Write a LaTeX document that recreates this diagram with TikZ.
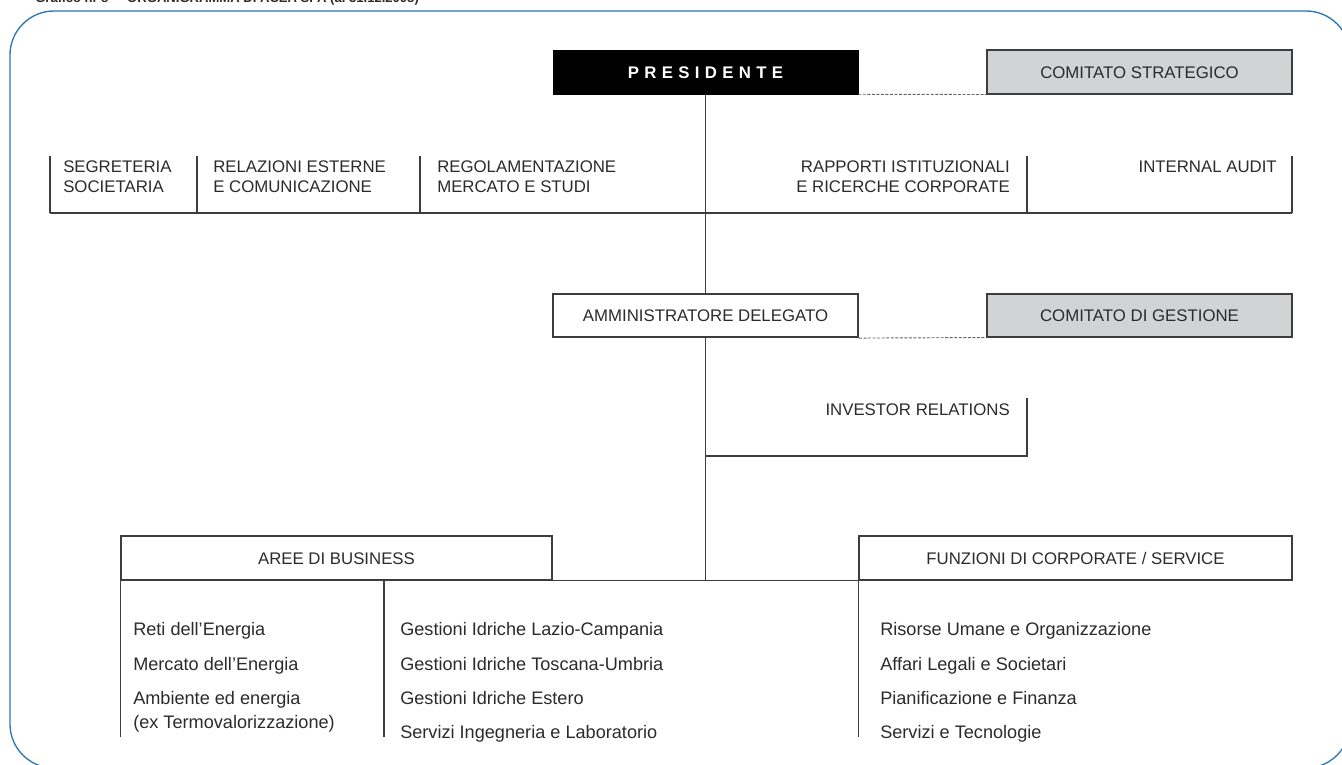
\documentclass[tikz,border=0pt]{standalone}
\usepackage{fontspec}
\setmainfont{Liberation Sans}
\definecolor{linegray}{HTML}{3D3D3D}
\definecolor{textc}{HTML}{2B2B2B}
\definecolor{boxfill}{HTML}{D1D3D4}
\definecolor{frameblue}{HTML}{2A77B5}
\newcommand{\capsfont}{\fontsize{12.6pt}{15pt}\selectfont}
\newcommand{\lowfont}{\fontsize{13.6pt}{18pt}\selectfont}
\tikzset{
  capstext/.style={inner sep=0pt, text=textc, font=\capsfont},
  lowtext/.style={inner sep=0pt, text=textc, font=\lowfont, anchor=base west, align=left},
  orgbox/.style={draw=linegray, line width=0.8pt, inner sep=0pt, text=textc, font=\capsfont,
     text height=9pt, text depth=0pt, minimum height=33pt},
  greybox/.style={orgbox, fill=boxfill},
  link/.style={draw=linegray, line width=0.8pt},
  dashlink/.style={draw=linegray!80, line width=0.7pt, dash pattern=on 2.2pt off 1.2pt},
  frame/.style={draw=frameblue, line width=1pt, rounded corners=33pt}
}
\begin{document}
\begin{tikzpicture}[x=0.75pt,y=-0.75pt]
\useasboundingbox (0,0) rectangle (1342,764);
\begin{scope}
\clip (0,0) rectangle (1342,764);
\node[anchor=base west, inner sep=0pt, text=textc, font=\bfseries\fontsize{9.8pt}{12pt}\selectfont] (title) at (35,2.5)
  {Grafico n. 8 \,–\, ORGANIGRAMMA DI ACEA SPA (al 31.12.2008)};
\draw[frame] (10,11) rectangle (1350,768);
\end{scope}

% top level
\node[draw=black, fill=black, minimum width=228.75pt, minimum height=33pt, inner sep=0pt,
  text=white, font=\bfseries\fontsize{12.6pt}{15pt}\selectfont, text height=9pt, text depth=0pt]
  (pres) at (705.5,72) {P\kern4pt R\kern4pt E\kern4pt S\kern4pt I\kern4pt D\kern4pt E\kern4pt N\kern4pt T\kern4pt E};
\node[greybox, minimum width=228.75pt] (cs) at (1139.5,72) {COMITATO STRATEGICO};

% staff row (anchor = baseline of last line)
\node[capstext, anchor=base west, align=left] (seg) at (63,192) {SEGRETERIA\\SOCIETARIA};
\node[capstext, anchor=base west, align=left] (rel) at (213,192) {RELAZIONI ESTERNE\\E COMUNICAZIONE};
\node[capstext, anchor=base west, align=left] (reg) at (437,192) {REGOLAMENTAZIONE\\MERCATO E STUDI};
\node[capstext, anchor=base east, align=right] (rap) at (1010,192) {RAPPORTI ISTITUZIONALI\\E RICERCHE CORPORATE};
\node[capstext, anchor=base east, align=right] (ia) at (1277,172) {INTERNAL AUDIT};

\coordinate (s0) at (50,156);
\coordinate (s1) at (197,156);
\coordinate (s2) at (420,156);
\coordinate (s3) at (1027,156);
\coordinate (s4) at (1292,156);
\coordinate (rowL) at (50,213);
\coordinate (rowR) at (1292,213);
\draw[link] (rowL) -- (rowR);
\foreach \s in {s0,s1,s2,s3,s4} \draw[link] (\s) -- (\s |- rowL);

% second level
\node[orgbox, fill=white, line width=1.6pt, minimum width=228.75pt, minimum height=32.25pt] (ad) at (705.5,315.5) {AMMINISTRATORE DELEGATO};
\node[greybox, minimum width=228.75pt, minimum height=32.25pt] (cg) at (1139.5,315.5) {COMITATO DI GESTIONE};

\draw[link] (pres) -- (ad);
\draw[dashlink] (pres.south east) -- (cs.south west);
\draw[dashlink] (ad.south east) -- (cg.south west);

% investor relations
\node[capstext, anchor=base east] (inv) at (1010,415) {INVESTOR RELATIONS};
\coordinate (invtop) at (1027,398);
\coordinate (invbot) at (1027,456);
\draw[link] (invtop) -- (invbot) -- (invbot -| ad.south);

% bottom level
\node[orgbox, minimum width=323.25pt] (aree) at (336.5,558) {AREE DI BUSINESS};
\node[orgbox, minimum width=324.75pt] (funz) at (1075.5,558) {FUNZIONI DI CORPORATE / SERVICE};

\draw[link] (ad) -- (ad |- aree.south);
\draw[link] (aree.south east) -- (funz.south west);

\coordinate (mid) at (384,580);
\coordinate (colbot) at (0,737);
\draw[link] (aree.south west) -- (aree.south west |- colbot);
\draw[link] (mid) -- (mid |- colbot);
\draw[link] (funz.south west) -- (funz.south west |- colbot);

% lists
\node[lowtext] (reti) at (133,635) {Reti dell’Energia};
\node[lowtext] (merc) at (133,670) {Mercato dell’Energia};
\node[lowtext, font=\fontsize{13.6pt}{18pt}\selectfont] (amb) at (133,728) {Ambiente ed energia\\(ex Termovalorizzazione)};

\node[lowtext] (glc) at (400,635) {Gestioni Idriche Lazio-Campania};
\node[lowtext] (gtu) at (400,670) {Gestioni Idriche Toscana-Umbria};
\node[lowtext] (gie) at (400,704) {Gestioni Idriche Estero};
\node[lowtext] (sil) at (400,738) {Servizi Ingegneria e Laboratorio};

\node[lowtext] (ruo) at (880,635) {Risorse Umane e Organizzazione};
\node[lowtext] (als) at (880,670) {Affari Legali e Societari};
\node[lowtext] (pef) at (880,704) {Pianificazione e Finanza};
\node[lowtext] (set) at (880,738) {Servizi e Tecnologie};
\end{tikzpicture}
\end{document}
